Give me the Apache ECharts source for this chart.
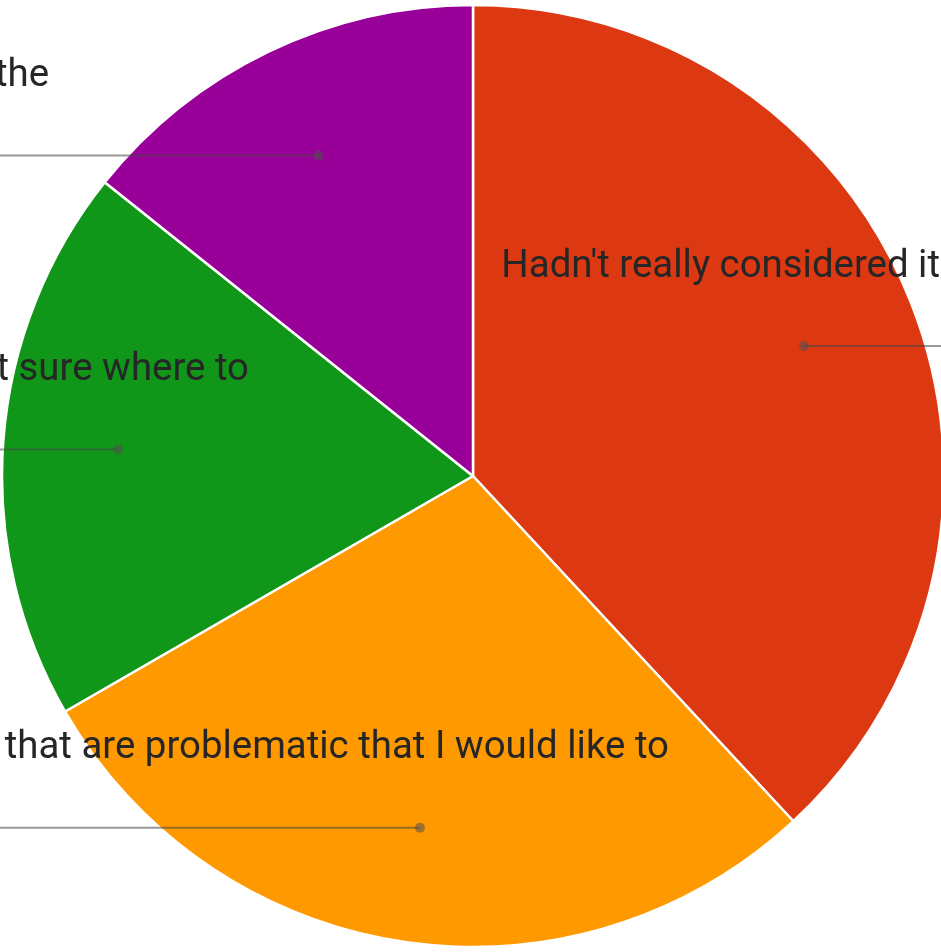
<!DOCTYPE html>
<html><head><meta charset="utf-8">
<script src="https://cdn.jsdelivr.net/npm/echarts@6/dist/echarts.min.js"></script>
<style>html,body{margin:0;padding:0;background:#fff;overflow:hidden}#c{width:941px;height:952px}</style>
</head><body><div id="c"></div>
<script>
// ---- data ----
const categories = [
  "Hadn't really considered it",
  "I have things that are problematic that I would like to",
  "Not sure where to",
  "Already doing the"
];
const responses = [8, 6, 4, 3];
const sliceColors = ['#dc3912', '#ff9900', '#109618', '#990099'];

// ---- layout ----
const CX = 473, CY = 476, R = 471;
const DOT_K = 0.755;            // leader-line dot radius as fraction of pie radius
const labelRightX = [940, 669, 249, 49];
const TEXT_RISE = 79;

const total = responses.reduce((a, b) => a + b, 0);
const mids = [];
let acc = 0;
responses.forEach(v => { mids.push(acc + v / 2); acc += v; });

const chart = echarts.init(document.getElementById('c'), null, {renderer: 'canvas'});
chart.setOption({
  animation: false,
  backgroundColor: '#ffffff',
  polar: {center: [CX, CY], radius: R},
  angleAxis: {type: 'value', min: 0, max: total, startAngle: 90, clockwise: true, show: false},
  radiusAxis: {type: 'value', min: 0, max: 1, show: false},
  series: [
    {
      type: 'pie',
      center: [CX, CY],
      radius: [0, R],
      startAngle: 90,
      clockwise: true,
      silent: true,
      itemStyle: {borderColor: '#ffffff', borderWidth: 2.5},
      label: {show: false},
      labelLine: {show: false},
      data: categories.map((n, i) => ({
        name: n, value: responses[i], itemStyle: {color: sliceColors[i]}
      }))
    },
    {
      type: 'custom',
      coordinateSystem: 'polar',
      z: 10,
      silent: true,
      data: mids.map(m => [DOT_K, m]),
      renderItem: function (params, api) {
        const i = params.dataIndex;
        const pt = api.coord([api.value(0), api.value(1)]);
        const c = api.coord([0, 0]);
        const right = pt[0] > c[0];
        const edge = right ? api.getWidth() + 60 : -60;
        return {
          type: 'group',
          children: [
            {type: 'line', shape: {x1: pt[0], y1: pt[1], x2: edge, y2: pt[1]},
             style: {stroke: 'rgba(70,70,70,0.55)', lineWidth: 2}},
            {type: 'circle', shape: {cx: pt[0], cy: pt[1], r: 5},
             style: {fill: 'rgba(80,80,80,0.55)'}},
            {type: 'text', x: labelRightX[i], y: pt[1] - TEXT_RISE,
             style: {text: categories[i], fontFamily: 'Roboto', fontSize: 38.4,
                     fill: '#262626', align: 'right', verticalAlign: 'middle'}}
          ]
        };
      }
    }
  ]
});
</script>
</body></html>
